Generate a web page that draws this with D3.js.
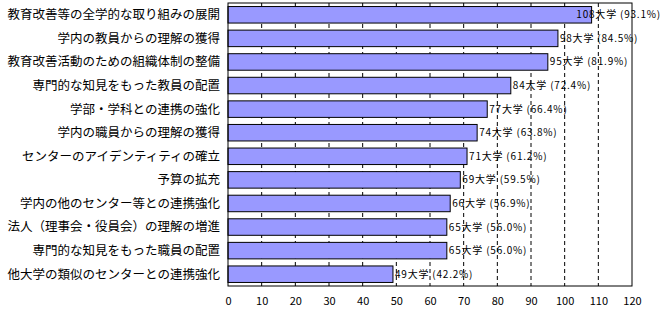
<!DOCTYPE html>
<html>
<head>
<meta charset="utf-8">
<script src="https://cdn.jsdelivr.net/npm/d3@7"></script>
<style>
  body { margin: 0; background: #fff; }
  text { font-family: "Noto Sans CJK JP", sans-serif; fill: #000; }
</style>
</head>
<body>
<div id="viz"></div>
<script>
// data
var categories = [
  "教育改善等の全学的な取り組みの展開",
  "学内の教員からの理解の獲得",
  "教育改善活動のための組織体制の整備",
  "専門的な知見をもった教員の配置",
  "学部・学科との連携の強化",
  "学内の職員からの理解の獲得",
  "センターのアイデンティティの確立",
  "予算の拡充",
  "学内の他のセンター等との連携強化",
  "法人（理事会・役員会）の理解の増進",
  "専門的な知見をもった職員の配置",
  "他大学の類似のセンターとの連携強化"
];
var counts = [108, 98, 95, 84, 77, 74, 71, 69, 66, 65, 65, 49];
var percents = ["93.1", "84.5", "81.9", "72.4", "66.4", "63.8", "61.2", "59.5", "56.9", "56.0", "56.0", "42.2"];
var tickValues = [0, 10, 20, 30, 40, 50, 60, 70, 80, 90, 100, 110, 120];

var W = 663, H = 310;
var plotL = 228, plotR = 632, plotT = 3, plotB = 286;

var svg = d3.select("#viz").append("svg")
  .attr("width", W).attr("height", H);

var x = d3.scaleLinear().domain([0, 120]).range([plotL, plotR]);
var y = d3.scaleBand().domain(categories).range([plotT, plotB])
  .paddingInner(0.3).paddingOuter(0.15);

// dashed grid
svg.selectAll("line.grid")
  .data(tickValues.slice(1, -1))
  .enter().append("line")
  .attr("x1", d => x(d)).attr("x2", d => x(d))
  .attr("y1", plotT).attr("y2", plotB)
  .style("stroke", "#000")
  .style("stroke-dasharray", "4,3");

// bars
svg.selectAll("rect.bar")
  .data(counts)
  .enter().append("rect")
  .attr("x", x(0))
  .attr("y", (d, i) => y(categories[i]))
  .attr("width", d => x(d) - x(0))
  .attr("height", y.bandwidth())
  .style("fill", "#9999ff")
  .style("stroke", "#000")
  .style("stroke-width", 1);

// frame
svg.append("rect")
  .attr("x", plotL).attr("y", plotT)
  .attr("width", plotR - plotL).attr("height", plotB - plotT)
  .style("fill", "none").style("stroke", "#000");

// value labels
svg.selectAll("text.val")
  .data(counts)
  .enter().append("text")
  .attr("y", (d, i) => y(categories[i]) + y.bandwidth() / 2)
  .attr("dy", "0.35em")
  .style("font-size", "10px")
  .style("letter-spacing", "0.8px")
  .text((d, i) => d + "大学 (" + percents[i] + "%)")
  .attr("x", function (d) {
    var w = this.getComputedTextLength();
    return Math.min(x(d) + 2, 661 - w);
  });

// category labels
svg.selectAll("text.cat")
  .data(categories)
  .enter().append("text")
  .attr("x", 220)
  .attr("y", d => y(d) + y.bandwidth() / 2)
  .attr("dy", "0.35em")
  .attr("text-anchor", "end")
  .style("font-size", "12.5px")
  .text(d => d);

// x axis labels
var xAxis = d3.axisBottom(x).tickValues(tickValues).tickSize(0).tickPadding(11);
var ax = svg.append("g")
  .attr("transform", "translate(0," + plotB + ")")
  .call(xAxis);
ax.select(".domain").remove();
ax.selectAll("text")
  .style("font-size", "11px")
  .style("font-family", "\"Noto Sans CJK JP\", sans-serif");
</script>
</body>
</html>
